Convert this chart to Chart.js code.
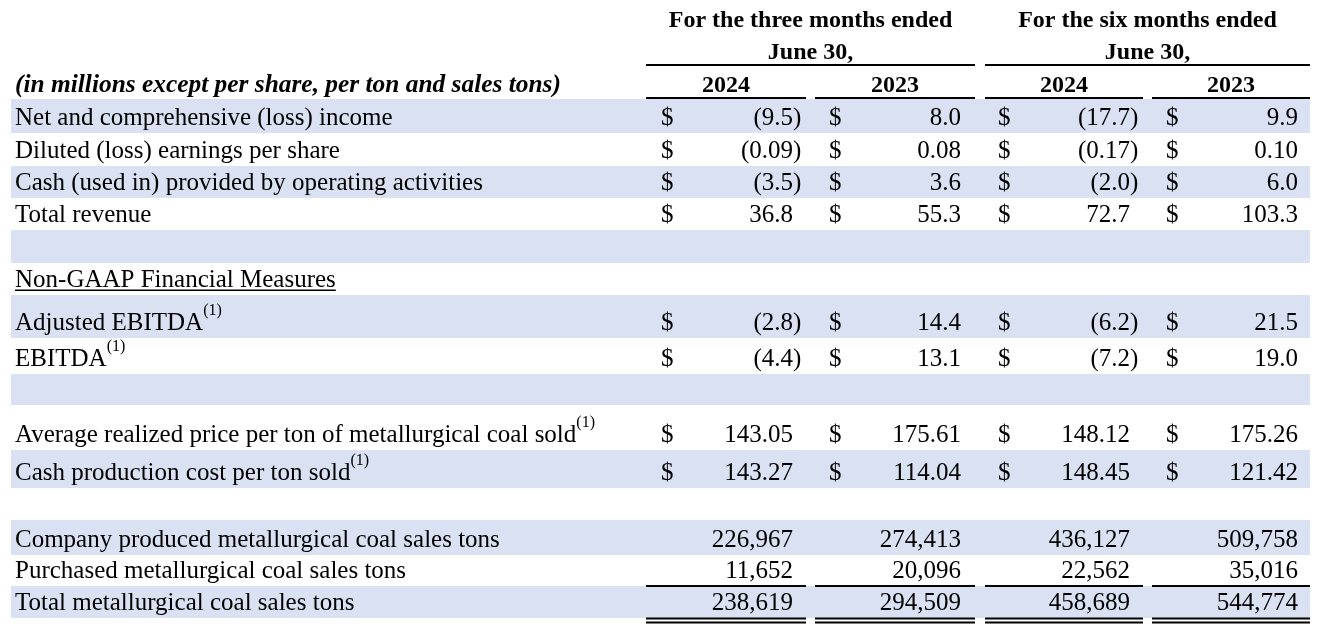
<!DOCTYPE html>
<html>
<head>
<meta charset="utf-8">
<script src="https://cdn.jsdelivr.net/npm/chart.js@4.4.1/dist/chart.umd.min.js"></script>
<style>
  html, body { margin: 0; padding: 0; background: #fff; }
  #wrap { width: 1329px; height: 644px; }
</style>
</head>
<body>
<div id="wrap"><canvas id="myChart"></canvas></div>
<script>
// table data
const rowLabels = [
  "Net and comprehensive (loss) income",
  "Diluted (loss) earnings per share",
  "Cash (used in) provided by operating activities",
  "Total revenue",
  "",
  "Non-GAAP Financial Measures",
  "Adjusted EBITDA",
  "EBITDA",
  "",
  "Average realized price per ton of metallurgical coal sold",
  "Cash production cost per ton sold",
  "",
  "Company produced metallurgical coal sales tons",
  "Purchased metallurgical coal sales tons",
  "Total metallurgical coal sales tons"
];
const footnote  = [0,0,0,0,0,0,1,1,0,1,1,0,0,0,0];
const hasDollar = [1,1,1,1,0,0,1,1,0,1,1,0,0,0,0];
const decimals  = [1,2,1,1,0,0,1,1,0,2,2,0,0,0,0];
const shaded    = [1,0,1,0,1,0,1,0,1,0,1,0,1,0,1];

const threeMonths2024 = [-9.5, -0.09, -3.5, 36.8, null, null, -2.8, -4.4, null, 143.05, 143.27, null, 226967, 11652, 238619];
const threeMonths2023 = [8.0, 0.08, 3.6, 55.3, null, null, 14.4, 13.1, null, 175.61, 114.04, null, 274413, 20096, 294509];
const sixMonths2024   = [-17.7, -0.17, -2.0, 72.7, null, null, -6.2, -7.2, null, 148.12, 148.45, null, 436127, 22562, 458689];
const sixMonths2023   = [9.9, 0.10, 6.0, 103.3, null, null, 21.5, 19.0, null, 175.26, 121.42, null, 509758, 35016, 544774];
const columns = [threeMonths2024, threeMonths2023, sixMonths2024, sixMonths2023];

const periodTitles = ["For the three months ended", "For the six months ended"];
const periodSub = "June 30,";
const yearLabels = ["2024", "2023", "2024", "2023"];
const unitNote = "(in millions except per share, per ton and sales tons)";

// layout, in scale units (the scales map 1:1 to the canvas)
const rowEdges = [99,133,166,198,230,263,295,338,374,405,450,488,520,555,586,618];
const colDollar = [661, 829, 998, 1166];
const colRight = [793, 961, 1130, 1298];
const colSpan = [[646,806],[815,975],[985,1143],[1152,1310]];
const periodSpan = [[646,975],[985,1310]];
const SERIF = '"Liberation Serif", "Times New Roman", serif';

function fmt(v, d) {
  return Math.abs(v).toLocaleString("en-US", {minimumFractionDigits: d, maximumFractionDigits: d});
}

const tablePlugin = {
  id: "table",
  beforeDatasetsDraw(chart) {
    const ctx = chart.ctx;
    const x = chart.scales.x, y = chart.scales.y;
    ctx.save();
    // row shading
    ctx.fillStyle = "#D9E1F2";
    shaded.forEach((s, i) => {
      if (!s) return;
      const top = y.getPixelForValue(rowEdges[i]);
      const bot = y.getPixelForValue(rowEdges[i + 1]);
      ctx.fillRect(x.getPixelForValue(11), top, x.getPixelForValue(1310) - x.getPixelForValue(11), bot - top);
    });
    ctx.restore();
  },
  afterDatasetsDraw(chart) {
    const ctx = chart.ctx;
    const x = chart.scales.x, y = chart.scales.y;
    const hline = (x0, x1, yy, w) => {
      ctx.fillRect(x.getPixelForValue(x0), y.getPixelForValue(yy) - w / 2,
                   x.getPixelForValue(x1) - x.getPixelForValue(x0), w);
    };
    ctx.save();
    ctx.fillStyle = "#000";
    ctx.textBaseline = "alphabetic";

    // header
    ctx.font = "bold 24px " + SERIF;
    ctx.textAlign = "center";
    periodSpan.forEach((sp, k) => {
      const cx = x.getPixelForValue((sp[0] + sp[1]) / 2);
      ctx.fillText(periodTitles[k], cx, y.getPixelForValue(26.5));
      ctx.fillText(periodSub, cx, y.getPixelForValue(59));
      hline(sp[0], sp[1], 65, 2);
    });
    yearLabels.forEach((t, k) => {
      ctx.fillText(t, x.getPixelForValue((colSpan[k][0] + colSpan[k][1]) / 2), y.getPixelForValue(92));
      hline(colSpan[k][0], colSpan[k][1], 98, 2);
    });
    ctx.font = "italic bold 25.4px " + SERIF;
    ctx.textAlign = "left";
    ctx.fillText(unitNote, x.getPixelForValue(15), y.getPixelForValue(92));

    // body
    rowLabels.forEach((label, i) => {
      const base = y.getPixelForValue(rowEdges[i + 1] - 8.5);
      ctx.font = "25px " + SERIF;
      ctx.textAlign = "left";
      if (label) {
        const lx = x.getPixelForValue(15);
        ctx.fillText(label, lx, base);
        const w = ctx.measureText(label).width;
        if (i === 5) ctx.fillRect(lx, base + 3, w, 1.5);
        if (footnote[i]) {
          ctx.font = "16px " + SERIF;
          ctx.fillText("(1)", lx + w, base - 15);
          ctx.font = "25px " + SERIF;
        }
      }
      columns.forEach((col, k) => {
        const v = col[i];
        if (v === null) return;
        if (hasDollar[i]) {
          ctx.textAlign = "left";
          ctx.fillText("$", x.getPixelForValue(colDollar[k]), base);
        }
        const rx = x.getPixelForValue(colRight[k]);
        ctx.textAlign = "right";
        ctx.fillText((v < 0 ? "(" : "") + fmt(v, decimals[i]), rx, base);
        if (v < 0) {
          ctx.textAlign = "left";
          ctx.fillText(")", rx, base);
        }
      });
    });

    // totals rules
    colSpan.forEach(sp => {
      hline(sp[0], sp[1], 586, 2);
      hline(sp[0], sp[1], 618.5, 2);
      hline(sp[0], sp[1], 622.5, 2);
    });
    ctx.restore();
  }
};

new Chart("myChart", {
  type: "bar",
  data: { labels: rowLabels, datasets: [] },
  options: {
    responsive: true,
    maintainAspectRatio: false,
    animation: false,
    layout: { padding: 0 },
    plugins: { legend: { display: false }, tooltip: { enabled: false } },
    scales: {
      x: { type: "linear", min: 0, max: 1329, offset: false, display: false },
      y: { type: "linear", min: 0, max: 644, reverse: true, offset: false, display: false }
    }
  },
  plugins: [tablePlugin]
});
</script>
</body>
</html>
